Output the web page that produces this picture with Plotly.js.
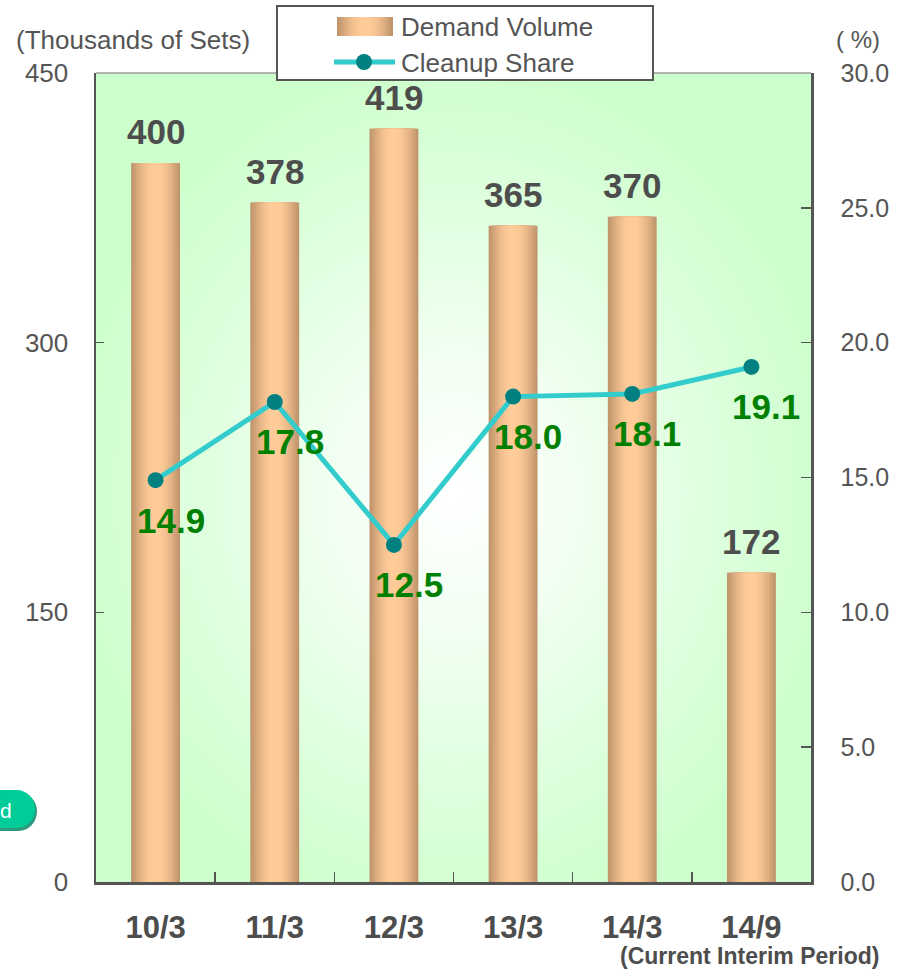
<!DOCTYPE html>
<html>
<head>
<meta charset="utf-8">
<script src="https://cdn.plot.ly/plotly-3.0.1.min.js"></script>
<style>
  html, body { margin: 0; padding: 0; background: #ffffff; }
  #chart { width: 904px; height: 970px; }
</style>
</head>
<body>
<div id="chart"></div>
<script>
// Fiscal periods (year/month) and the two series
const categories = ['10/3', '11/3', '12/3', '13/3', '14/3', '14/9'];
const demandVolume = [400, 378, 419, 365, 370, 172];     // thousands of sets
const cleanupShare = [14.9, 17.8, 12.5, 18.0, 18.1, 19.1]; // percent
const volumeTicks = [0, 150, 300, 450];
const shareTicks = [0, 5, 10, 15, 20, 25, 30];
const shareTickText = ['0.0', '5.0', '10.0', '15.0', '20.0', '25.0', '30.0'];

const W = 904, H = 970;
const M = { l: 96, r: 93, t: 73, b: 88 };
const PW = W - M.l - M.r, PH = H - M.t - M.b;
const px2x = p => (p - M.l) / PW;
const py2y = p => (H - M.b - p) / PH;

const FONT = 'Liberation Sans, Arial, sans-serif';
const GREY = '#555555';

// Cylinder-like shading: stacked bars of shrinking width, dark edge -> light centre
const EDGE = [192, 148, 108], CENTRE = [255, 204, 153];
const LAYERS = 14, BAR_W = 0.41;
function shade(t) {
  const c = EDGE.map((e, k) => Math.round(e + (CENTRE[k] - e) * t));
  return `rgb(${c[0]},${c[1]},${c[2]})`;
}
const traces = [];
for (let i = 0; i < LAYERS; i++) {
  const f = i / (LAYERS - 1);
  traces.push({
    type: 'bar', x: categories, y: demandVolume,
    width: BAR_W * (1 - 0.93 * f),
    marker: { color: shade(Math.sin(f * Math.PI / 2)), line: { width: 0 } },
    hoverinfo: 'skip', showlegend: false
  });
}
traces.push({
  type: 'scatter', mode: 'lines+markers', x: categories, y: cleanupShare, yaxis: 'y2',
  line: { color: '#33cccc', width: 5 },
  marker: { color: '#008080', size: 16 },
  showlegend: false
});

const annotations = [];
categories.forEach((c, i) => {
  annotations.push({
    x: c, y: demandVolume[i], xref: 'x', yref: 'y', text: String(demandVolume[i]),
    showarrow: false, yanchor: 'middle', yshift: 31,
    font: { family: FONT, size: 35, color: '#4d4d4d', weight: 'bold' }
  });
  annotations.push({
    x: c, y: cleanupShare[i], xref: 'x', yref: 'y2', text: cleanupShare[i].toFixed(1),
    showarrow: false, yanchor: 'middle', xshift: 15, yshift: -40,
    font: { family: FONT, size: 35, color: '#008000', weight: 'bold' }
  });
});

// Axis captions and period note
annotations.push({
  xref: 'paper', yref: 'paper', x: px2x(14), y: py2y(40), xanchor: 'left', yanchor: 'middle',
  text: '(Thousands of Sets)', showarrow: false, font: { family: FONT, size: 26, color: GREY }
});
annotations.push({
  xref: 'paper', yref: 'paper', x: px2x(858), y: py2y(40), xanchor: 'center', yanchor: 'middle',
  text: '( %)', showarrow: false, font: { family: FONT, size: 24, color: GREY }
});
annotations.push({
  xref: 'paper', yref: 'paper', x: px2x(881), y: py2y(956), xanchor: 'right', yanchor: 'middle',
  text: '(Current Interim Period)', showarrow: false,
  font: { family: FONT, size: 23, color: '#4d4d4d', weight: 'bold' }
});

// Legend
annotations.push({
  xref: 'paper', yref: 'paper', x: px2x(399), y: py2y(27), xanchor: 'left', yanchor: 'middle',
  text: 'Demand Volume', showarrow: false, font: { family: FONT, size: 26, color: GREY }
});
annotations.push({
  xref: 'paper', yref: 'paper', x: px2x(399), y: py2y(63), xanchor: 'left', yanchor: 'middle',
  text: 'Cleanup Share', showarrow: false, font: { family: FONT, size: 26, color: GREY }
});

const shapes = [];
// top frame line
shapes.push({ type: 'line', xref: 'paper', yref: 'paper', x0: 0, x1: 1, y0: 1, y1: 1,
  line: { color: '#9a9a9a', width: 1.5 } });
// legend box
shapes.push({ type: 'rect', xref: 'paper', yref: 'paper', layer: 'above',
  x0: px2x(277), x1: px2x(653), y0: py2y(80), y1: py2y(6),
  fillcolor: '#ffffff', line: { color: GREY, width: 2 } });
// legend bar swatch
const SW0 = 337, SW1 = 393, SWC = (SW0 + SW1) / 2;
for (let i = 0; i < LAYERS; i++) {
  const f = i / (LAYERS - 1);
  const half = (SW1 - SW0) / 2 * (1 - 0.93 * f);
  shapes.push({ type: 'rect', xref: 'paper', yref: 'paper', layer: 'above',
    x0: px2x(SWC - half), x1: px2x(SWC + half), y0: py2y(36), y1: py2y(17),
    fillcolor: shade(Math.sin(f * Math.PI / 2)), line: { width: 0 } });
}
// legend line swatch
shapes.push({ type: 'line', xref: 'paper', yref: 'paper', layer: 'above',
  x0: px2x(334), x1: px2x(395), y0: py2y(62), y1: py2y(62),
  line: { color: '#33cccc', width: 5 } });
shapes.push({ type: 'circle', xref: 'paper', yref: 'paper', layer: 'above',
  x0: px2x(356), x1: px2x(372), y0: py2y(70), y1: py2y(54),
  fillcolor: '#008080', line: { width: 0 } });

// side tab button, partly off the left edge
shapes.push({ type: 'rect', xref: 'paper', yref: 'paper', layer: 'above',
  x0: px2x(-10), x1: px2x(19), y0: py2y(831), y1: py2y(792),
  fillcolor: '#2f9b7d', line: { width: 0 } });
shapes.push({ type: 'circle', xref: 'paper', yref: 'paper', layer: 'above',
  x0: px2x(0), x1: px2x(37), y0: py2y(831), y1: py2y(792),
  fillcolor: '#2f9b7d', line: { width: 0 } });
shapes.push({ type: 'rect', xref: 'paper', yref: 'paper', layer: 'above',
  x0: px2x(-10), x1: px2x(17), y0: py2y(828), y1: py2y(790),
  fillcolor: '#00cc99', line: { width: 0 } });
shapes.push({ type: 'circle', xref: 'paper', yref: 'paper', layer: 'above',
  x0: px2x(-2), x1: px2x(35), y0: py2y(828), y1: py2y(790),
  fillcolor: '#00cc99', line: { width: 0 } });
annotations.push({
  xref: 'paper', yref: 'paper', x: px2x(6), y: py2y(810), xanchor: 'center', yanchor: 'middle',
  text: 'd', showarrow: false, font: { family: FONT, size: 21, color: '#ffffff' }
});

// soft radial glow behind the plot
const glow = '<svg xmlns="http://www.w3.org/2000/svg" width="715" height="809">' +
  '<defs><radialGradient id="g" cx="50%" cy="52%" r="55%">' +
  '<stop offset="0" stop-color="#ffffff"/><stop offset="0.3" stop-color="#f2fff2"/>' +
  '<stop offset="1" stop-color="#ccffcc"/></radialGradient></defs>' +
  '<rect width="715" height="809" fill="url(#g)"/></svg>';

const layout = {
  width: W, height: H,
  margin: M,
  paper_bgcolor: '#ffffff',
  plot_bgcolor: '#ccffcc',
  barmode: 'overlay',
  showlegend: false,
  font: { family: FONT, color: GREY },
  images: [{
    source: 'data:image/svg+xml;charset=utf-8,' + encodeURIComponent(glow),
    xref: 'paper', yref: 'paper', x: 0, y: 1, sizex: 1, sizey: 1,
    sizing: 'stretch', xanchor: 'left', yanchor: 'top', layer: 'below'
  }],
  xaxis: {
    type: 'category', range: [-0.5, 5.5], fixedrange: true,
    showline: true, linecolor: GREY, linewidth: 2.5,
    ticks: 'inside', tickson: 'boundaries', ticklen: 10, tickcolor: GREY, tickwidth: 1.5,
    tickfont: { family: FONT, size: 31, color: '#4d4d4d', weight: 'bold' },
    ticklabelstandoff: 16, showgrid: false, zeroline: false
  },
  yaxis: {
    range: [0, 450], tickvals: volumeTicks, fixedrange: true,
    showline: true, linecolor: GREY, linewidth: 2.5,
    ticks: 'inside', ticklen: 8, tickcolor: GREY, tickwidth: 1.5,
    tickfont: { family: FONT, size: 26, color: GREY },
    ticklabelstandoff: 20, showgrid: false, zeroline: false
  },
  yaxis2: {
    overlaying: 'y', side: 'right', range: [0, 30], fixedrange: true,
    tickvals: shareTicks, ticktext: shareTickText,
    showline: true, linecolor: GREY, linewidth: 2.5,
    ticks: 'inside', ticklen: 10, tickcolor: GREY, tickwidth: 1.5,
    tickfont: { family: FONT, size: 25, color: GREY },
    ticklabelstandoff: 22, showgrid: false, zeroline: false
  },
  shapes: shapes,
  annotations: annotations
};

Plotly.newPlot('chart', traces, layout, { displayModeBar: false, staticPlot: true });
</script>
</body>
</html>
